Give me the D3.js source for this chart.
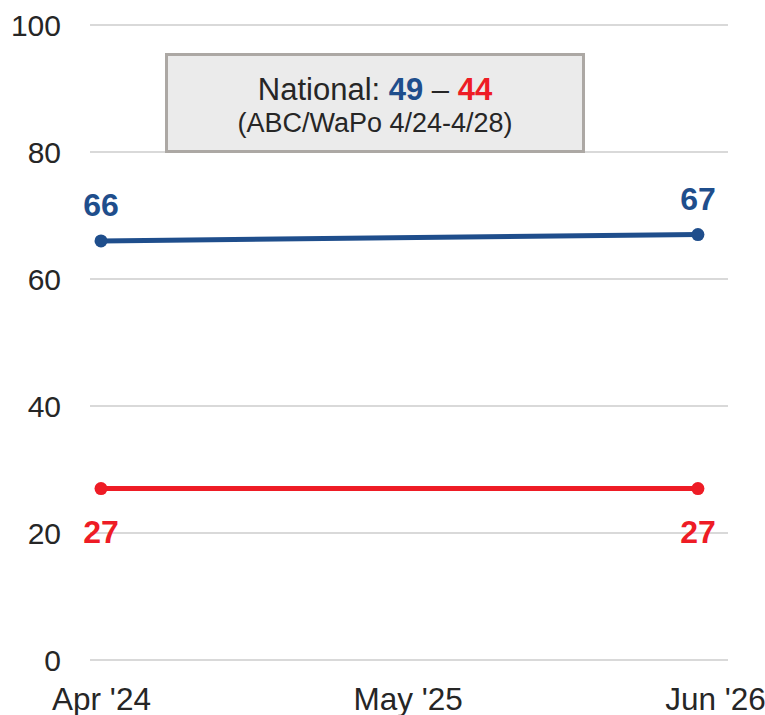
<!DOCTYPE html>
<html>
<head>
<meta charset="utf-8">
<script src="https://d3js.org/d3.v7.min.js"></script>
<style>
	body{
		margin: 0;
		background: white;
		overflow: hidden;
	}
	svg text{
		font-family: "Liberation Sans", Arial, sans-serif;
	}
	.grid line{
		stroke: #d9d9d9;
		stroke-width: 2;
	}
	.axis text{
		fill: #262626;
		font-size: 30px;
	}
	.axis.xa text{
		font-size: 31.5px;
	}
	.axis path{
		display: none;
	}
</style>
</head>
<body>
<div id="container"></div>

<script type="text/javascript">

// chart values
var dates = ["2024-04-01", "2026-05-10"];
var demValues = [66, 67];
var repValues = [27, 27];
var yTicks = [0, 20, 40, 60, 80, 100];
var xTickDates = ["2024-04-01", "2025-05-01", "2026-06-01"];
var xTickLabels = ["Apr '24", "May '25", "Jun '26"];
var boxTitle = "National: ";
var boxDem = "49";
var boxRep = "44";
var boxSub = "(ABC/WaPo 4/24-4/28)";

var W = 765, H = 715;
var navy = "#1f4e8c", red = "#ee1c25";
var parse = d3.timeParse("%Y-%m-%d");

var svg = d3.select("#container")
	.append("svg")
	.attr("width", W)
	.attr("height", H);

var x = d3.scaleTime()
	.domain([parse(xTickDates[0]), parse(xTickDates[2])])
	.range([101, 715]);

var y = d3.scaleLinear()
	.domain([0, 100])
	.range([660, 25]);

// gridlines
svg.append("g")
	.attr("class", "grid")
	.selectAll("line")
	.data(yTicks)
	.enter().append("line")
	.attr("x1", 90)
	.attr("x2", 728)
	.attr("y1", function(d){ return y(d); })
	.attr("y2", function(d){ return y(d); });

// y axis
svg.append("g")
	.attr("class", "axis")
	.attr("transform", "translate(90,0)")
	.call(d3.axisLeft(y).tickValues(yTicks).tickSize(0).tickPadding(29))
	.selectAll("text")
	.attr("dy", "0.35em");

// x axis
svg.append("g")
	.attr("class", "axis xa")
	.attr("transform", "translate(0," + y(0) + ")")
	.call(d3.axisBottom(x)
		.tickValues(xTickDates.map(parse))
		.tickSize(0)
		.tickPadding(28)
		.tickFormat(function(d, i){ return xTickLabels[i]; }));

// note box
var box = svg.append("g");
box.append("rect")
	.attr("x", 166.5)
	.attr("y", 54.5)
	.attr("width", 417)
	.attr("height", 97)
	.style("fill", "#ebebeb")
	.style("stroke", "#aca8a4")
	.style("stroke-width", 3);

var t1 = box.append("text")
	.attr("x", 375)
	.attr("y", 100)
	.attr("text-anchor", "middle")
	.style("font-size", "31px")
	.style("fill", "#262626");
t1.append("tspan").text(boxTitle);
t1.append("tspan").style("font-weight", "bold").style("fill", navy).text(boxDem);
t1.append("tspan").text(" \u2013 ");
t1.append("tspan").style("font-weight", "bold").style("fill", red).text(boxRep);

box.append("text")
	.attr("x", 375)
	.attr("y", 132)
	.attr("text-anchor", "middle")
	.style("font-size", "27px")
	.style("fill", "#262626")
	.text(boxSub);

// series
var series = [
	{values: demValues, color: navy, dy: -25},
	{values: repValues, color: red, dy: 54}
];

var line = d3.line()
	.x(function(d){ return x(d.date); })
	.y(function(d){ return y(d.value); });

series.forEach(function(s){
	var pts = s.values.map(function(v, i){ return {date: parse(dates[i]), value: v}; });

	svg.append("path")
		.datum(pts)
		.attr("d", line)
		.style("fill", "none")
		.style("stroke", s.color)
		.style("stroke-width", 5);

	svg.selectAll(null)
		.data(pts)
		.enter().append("circle")
		.attr("cx", function(d){ return x(d.date); })
		.attr("cy", function(d){ return y(d.value); })
		.attr("r", 6.5)
		.style("fill", s.color);

	svg.selectAll(null)
		.data(pts)
		.enter().append("text")
		.attr("x", function(d){ return x(d.date); })
		.attr("y", function(d){ return y(d.value) + s.dy; })
		.attr("text-anchor", "middle")
		.style("font-size", "32px")
		.style("font-weight", "bold")
		.style("fill", s.color)
		.text(function(d){ return d.value; });
});

</script>
</body>
</html>
